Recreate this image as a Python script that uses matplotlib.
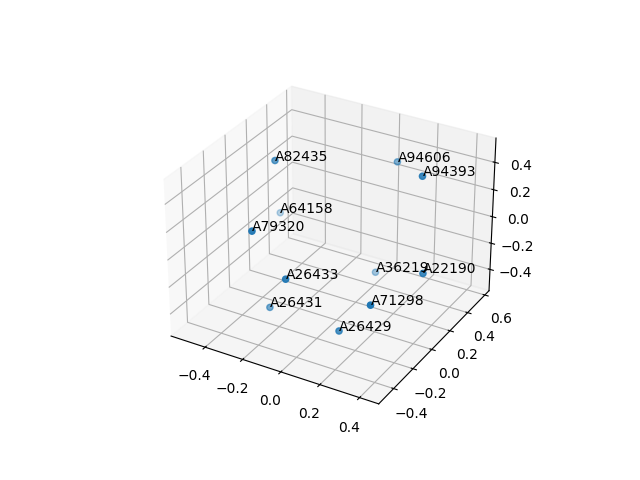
import matplotlib
matplotlib.use("Agg")
import matplotlib.pyplot as plt

names = ["A82435", "A94606", "A94393", "A64158", "A79320", "A26433",
         "A36219", "A22190", "A71298", "A26431", "A26429"]
xs = [-0.410, 0.026, 0.251, -0.486, -0.325, -0.151, 0.015, 0.358, 0.237, -0.294, 0.075]
ys = [0.16, 0.58, 0.38, 0.34, -0.22, -0.22, 0.38, 0.18, -0.12, -0.12, -0.12]
zs = [0.361, 0.27, 0.366, -0.167, 0.108, -0.173, -0.447, -0.179, -0.265, -0.515, -0.531]

fig = plt.figure()
ax = fig.add_subplot(projection='3d')
ax.scatter(xs, ys, zs)
for name, x, y, z in zip(names, xs, ys, zs):
    ax.text(x, y, z, name)

ax.set_xlim(-0.585, 0.495)
ax.set_ylim(-0.55, 0.65)
ax.set_zlim(-0.565, 0.575)

fig.savefig("out.png", dpi=100)
